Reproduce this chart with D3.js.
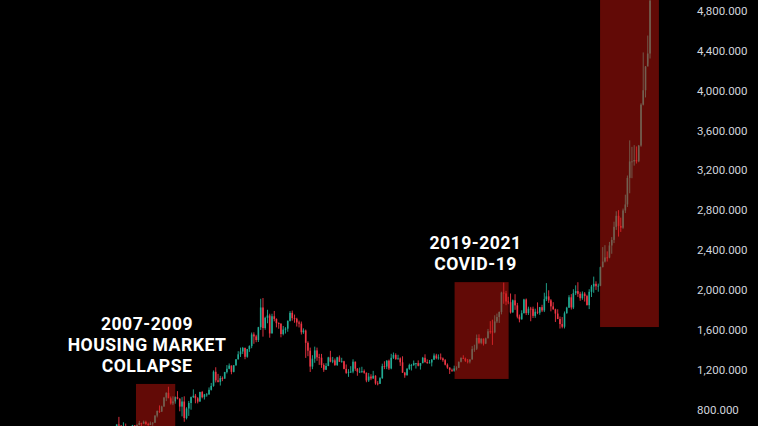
<!DOCTYPE html>
<html><head><meta charset="utf-8">
<script src="https://cdn.jsdelivr.net/npm/d3@7"></script>
<style>html,body{margin:0;padding:0;background:#000;overflow:hidden}</style>
</head><body>
<svg id="chart" width="758" height="426"></svg>
<script>
// Monthly gold candles, Jan 2006 .. Jan 2026
const firstMonth = "2006-01";
const opens = [
 517,568,556,582,654,643,614,633,623,599,604,646,
 632,650,669,662,680,659,650,665,672,743,789,783,
 834,923,971,916,865,885,928,912,833,884,718,814,
 869,928,942,916,883,979,927,955,955,1001,1040,1182,
 1096,1081,1118,1113,1179,1212,1244,1181,1247,1307,1357,1385,
 1421,1332,1410,1439,1556,1536,1500,1628,1826,1620,1722,1746,
 1566,1738,1711,1669,1664,1560,1604,1614,1692,1772,1719,1713,
 1676,1664,1578,1595,1472,1393,1234,1313,1396,1327,1323,1250,
 1202,1240,1326,1284,1296,1250,1327,1282,1287,1211,1171,1182,
 1184,1283,1213,1183,1184,1190,1172,1095,1134,1115,1142,1065,
 1061,1118,1238,1234,1293,1215,1322,1351,1309,1316,1277,1173,
 1146,1211,1249,1249,1268,1268,1242,1269,1322,1280,1271,1275,
 1303,1345,1318,1325,1316,1298,1253,1224,1201,1192,1215,1222,
 1282,1321,1313,1292,1284,1305,1409,1413,1520,1472,1513,1464,
 1517,1587,1585,1577,1686,1730,1781,1975,1967,1886,1879,1776,
 1898,1847,1734,1707,1769,1906,1770,1814,1813,1742,1783,1774,
 1829,1796,1909,1937,1897,1837,1807,1765,1711,1660,1633,1768,
 1824,1928,1826,1969,1990,1963,1919,1965,1940,1849,1983,2036,
 2063,2039,2044,2230,2286,2327,2326,2447,2503,2634,2744,2643,
 2625,2798,2858,3124,3289,3289,3303,3290,3448,3858,4002,4240,
 4370];
const highs = [
 570,575,589,655,730,646,676,663,630,621,650,648,
 654,690,672,693,692,672,683,676,746,795,845,842,
 930,976,1032,934,936,935,988,917,928,936,827,890,
 934,1006,960,928,982,990,960,968,1025,1070,1195,1227,
 1161,1141,1135,1181,1249,1265,1245,1250,1307,1388,1424,1431,
 1424,1411,1447,1575,1577,1552,1632,1913,1921,1733,1803,1764,
 1763,1791,1717,1677,1667,1641,1629,1696,1790,1795,1755,1723,
 1694,1685,1617,1605,1487,1424,1348,1434,1424,1362,1361,1267,
 1268,1332,1392,1331,1315,1332,1345,1322,1292,1255,1208,1238,
 1307,1284,1219,1224,1232,1205,1175,1170,1157,1191,1147,1088,
 1128,1263,1287,1298,1304,1362,1375,1367,1352,1326,1337,1180,
 1220,1263,1261,1295,1270,1296,1270,1331,1357,1306,1300,1309,
 1366,1362,1356,1365,1326,1309,1266,1226,1214,1243,1237,1284,
 1326,1347,1324,1310,1306,1439,1453,1555,1557,1518,1516,1524,
 1611,1689,1704,1748,1765,1786,1984,2075,1992,1933,1966,1906,
 1959,1872,1755,1798,1913,1916,1834,1832,1834,1814,1877,1831,
 1853,1974,2070,1998,1910,1879,1814,1808,1735,1730,1786,1833,
 1949,1960,2009,2048,2079,1983,1987,1980,1953,2009,2052,2135,
 2088,2065,2236,2431,2450,2388,2483,2531,2685,2790,2801,2726,
 2817,2956,3148,3500,3435,3452,3439,3454,3872,4381,4245,4550,
 5595];
const lows = [
 516,537,537,580,636,543,600,612,561,560,604,605,
 603,646,637,662,650,640,648,642,670,725,770,780,
 832,888,920,853,848,862,905,786,735,681,705,740,
 802,919,866,865,883,916,904,932,952,994,1032,1075,
 1075,1044,1088,1113,1165,1207,1157,1176,1242,1305,1330,1360,
 1308,1323,1381,1418,1462,1478,1480,1601,1534,1603,1668,1523,
 1566,1687,1627,1613,1527,1547,1565,1583,1686,1694,1673,1635,
 1626,1555,1562,1321,1338,1180,1208,1272,1292,1251,1221,1181,
 1202,1238,1277,1268,1240,1240,1281,1273,1206,1161,1131,1170,
 1167,1191,1142,1169,1170,1162,1077,1080,1098,1111,1052,1046,
 1061,1111,1208,1208,1200,1207,1310,1302,1303,1241,1171,1122,
 1146,1201,1195,1241,1214,1236,1204,1266,1272,1261,1265,1236,
 1302,1307,1303,1301,1282,1246,1211,1160,1180,1182,1196,1221,
 1276,1310,1281,1266,1266,1305,1382,1400,1459,1458,1445,1459,
 1517,1563,1451,1568,1670,1671,1757,1863,1849,1859,1765,1775,
 1802,1717,1677,1705,1766,1750,1751,1688,1721,1722,1759,1753,
 1780,1780,1890,1872,1787,1805,1681,1709,1615,1617,1616,1765,
 1823,1805,1810,1950,1932,1893,1903,1885,1847,1810,1931,1973,
 2002,1984,2039,2228,2277,2286,2319,2364,2471,2603,2536,2583,
 2614,2772,2832,2970,3121,3247,3268,3281,3436,3850,3930,4270,
 4320];
const closes = [
 568,556,582,654,643,614,633,623,599,604,646,632,
 650,669,662,680,659,650,665,672,743,789,783,834,
 923,971,916,865,885,928,912,833,884,718,814,869,
 928,942,916,883,979,927,955,955,1001,1040,1182,1096,
 1081,1118,1113,1179,1212,1244,1181,1247,1307,1357,1385,1421,
 1332,1410,1439,1556,1536,1500,1628,1826,1620,1722,1746,1566,
 1738,1711,1669,1664,1560,1604,1614,1692,1772,1719,1713,1676,
 1664,1578,1595,1472,1393,1234,1313,1396,1327,1323,1250,1202,
 1240,1326,1284,1296,1250,1327,1282,1287,1211,1171,1182,1184,
 1283,1213,1183,1184,1190,1172,1095,1134,1115,1142,1065,1061,
 1118,1238,1234,1293,1215,1322,1351,1309,1316,1277,1173,1146,
 1211,1249,1249,1268,1268,1242,1269,1322,1280,1271,1275,1303,
 1345,1318,1325,1316,1298,1253,1224,1201,1192,1215,1222,1282,
 1321,1313,1292,1284,1305,1409,1413,1520,1472,1513,1464,1517,
 1587,1585,1577,1686,1730,1781,1975,1967,1886,1879,1776,1898,
 1847,1734,1707,1769,1906,1770,1814,1813,1742,1783,1774,1829,
 1796,1909,1937,1897,1837,1807,1765,1711,1660,1633,1768,1824,
 1928,1826,1969,1990,1963,1919,1965,1940,1849,1983,2036,2063,
 2039,2044,2230,2286,2327,2326,2447,2503,2634,2744,2643,2625,
 2798,2858,3124,3289,3289,3303,3290,3448,3858,4002,4240,4370,
 4900];
const priceTicks = [800,1200,1600,2000,2400,2800,3200,3600,4000,4400,4800];
const eventLabels = [["2007-2009","HOUSING MARKET","COLLAPSE"],["2019-2021","COVID-19"]];
const eventStarts = ["2007-01-01","2018-10-20","2024-03-10"];
const eventEnds   = ["2008-06-15","2020-10-20","2026-05-15"];
const eventLows   = [500,1110,1630];
const eventHighs  = [1060,2080,6000];

const W = 758, H = 426;
const svg = d3.select("#chart");
svg.append("rect").attr("width",W).attr("height",H).attr("fill","#000");

const parseM = d3.timeParse("%Y-%m");
const parseD = d3.timeParse("%Y-%m-%d");
const m0 = parseM(firstMonth);
const candles = opens.map((o,i)=>({
  date: d3.timeDay.offset(d3.timeMonth.offset(m0,i),14),
  o, h: highs[i], l: lows[i], c: closes[i]
}));

const x = d3.scaleTime().domain([parseD("2006-01-01"), parseD("2026-01-01")]).range([109, 649]);
const y = d3.scaleLinear().domain([800, 4800]).range([409.9, 10.6]);

svg.append("defs").append("clipPath").attr("id","plot")
  .append("rect").attr("x",0).attr("y",0).attr("width",686).attr("height",H);

const plot = svg.append("g").attr("clip-path","url(#plot)");
const up = "#22ab94", down = "#f23645";
const bw = 1.6;
const g = plot.append("g");
g.selectAll("line.wick").data(candles).join("line")
  .attr("x1",d=>x(d.date)).attr("x2",d=>x(d.date))
  .attr("y1",d=>y(d.h)).attr("y2",d=>y(d.l))
  .attr("stroke",d=>d.c>=d.o?up:down).attr("stroke-width",0.9);
g.selectAll("rect.body").data(candles).join("rect")
  .attr("x",d=>x(d.date)-bw/2).attr("width",bw)
  .attr("y",d=>y(Math.max(d.o,d.c)))
  .attr("height",d=>Math.max(0.8, Math.abs(y(d.o)-y(d.c))))
  .attr("fill",d=>d.c>=d.o?up:down);

// event boxes
plot.selectAll("rect.ev").data(eventStarts).join("rect")
  .attr("x",(d,i)=>x(parseD(d)))
  .attr("width",(d,i)=>x(parseD(eventEnds[i]))-x(parseD(d)))
  .attr("y",(d,i)=>y(eventHighs[i]))
  .attr("height",(d,i)=>y(eventLows[i])-y(eventHighs[i]))
  .attr("fill","#c4140c").attr("fill-opacity",0.5);

// labels
const labelPos = [{cx:147, base:330},{cx:475.5, base:248.5}];
eventLabels.forEach((lines,i)=>{
  lines.forEach((s,j)=>svg.append("text").attr("text-anchor","middle")
    .attr("font-family","Roboto, sans-serif").attr("font-weight",700)
    .attr("font-size",17.6).attr("letter-spacing",0.5).attr("fill","#fff")
    .attr("x",labelPos[i].cx).attr("y",labelPos[i].base + j*21).text(s));
});

// price scale
const fmt = d3.format(",.3f");
svg.append("g").selectAll("text").data(priceTicks).join("text")
  .attr("x",697).attr("y",d=>y(d)).attr("dy","0.36em")
  .attr("font-family","Roboto, 'Liberation Sans', sans-serif").attr("font-size",11.5)
  .attr("fill","#d1d4dc").text(d=>fmt(d));
</script>
</body></html>
